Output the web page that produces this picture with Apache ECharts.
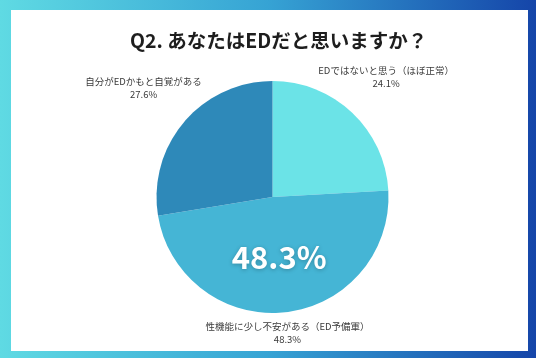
<!DOCTYPE html>
<html><head><meta charset="utf-8">
<script src="https://cdn.jsdelivr.net/npm/echarts@6/dist/echarts.min.js"></script>
<style>html,body{margin:0;padding:0;background:#fff}#c{width:536px;height:358px}</style>
</head><body><div id="c"></div>
<script>
const titleText = 'Q2. あなたはEDだと思いますか？';
const categories = ['EDではないと思う（ほぼ正常）', '性機能に少し不安がある（ED予備軍）', '自分がEDかもと自覚がある'];
const values = [24.1, 48.3, 27.6];
const sliceColors = ['#6be3e7', '#45b5d5', '#2e89b9'];
const highlightIndex = 1;

const CX = 272.5, CY = 197, R = 116;
const total = values.reduce((a, b) => a + b, 0);
function midAngle(i) {
  let cum = 0;
  for (let k = 0; k < i; k++) cum += values[k];
  return (cum + values[i] / 2) / total * Math.PI * 2;
}

const chart = echarts.init(document.getElementById('c'));
chart.setOption({
  backgroundColor: new echarts.graphic.LinearGradient(0, 0, 1, 0, [
    {offset: 0, color: '#5fdae3'},
    {offset: 0.5, color: '#36a3d4'},
    {offset: 1, color: '#1545a9'}
  ]),
  graphic: [{
    type: 'rect', left: 11, top: 10, z: -1,
    shape: {width: 517, height: 341},
    style: {fill: '#ffffff'}
  }],
  title: {
    text: titleText, left: 125, top: 26,
    textStyle: {fontFamily: 'Noto Sans CJK JP', fontSize: 19.5, fontWeight: 'bold', color: '#1e1e1e'}
  },
  series: [{
    type: 'pie', center: [CX, CY], radius: [0, R],
    startAngle: 90, clockwise: true, silent: true,
    emphasis: {disabled: true},
    itemStyle: {borderWidth: 0},
    data: categories.map((n, i) => ({
      name: n, value: values[i],
      itemStyle: {color: sliceColors[i]},
      label: i === highlightIndex ? {
        show: true, position: 'inside', formatter: '{c}%',
        fontFamily: 'Noto Sans CJK JP', fontSize: 31, fontWeight: 'bold', color: '#ffffff',
        textShadowColor: 'rgba(0,0,0,0.25)', textShadowBlur: 4, textShadowOffsetY: 1
      } : {show: false}
    })),
    labelLine: {show: false}
  }, {
    type: 'pie', center: [CX, CY], radius: [0, R],
    startAngle: 90, clockwise: true, silent: true,
    emphasis: {disabled: true},
    itemStyle: {color: 'rgba(0,0,0,0)'},
    data: categories.map((n, i) => ({name: n, value: values[i]})),
    label: {
      show: true, position: 'outside', formatter: '{b}\n{c}%',
      fontFamily: 'Noto Sans CJK JP', fontSize: 9.5, color: '#3a3a3a',
      lineHeight: 13, align: 'center', overflow: 'none'
    },
    labelLine: {show: false},
    labelLayout: function (p) {
      const a = midAngle(p.dataIndex);
      const s = Math.sin(a), c = Math.cos(a);
      const d = R + 15 + 50 * Math.abs(s);
      return {x: CX + d * s, y: CY - d * c, align: 'center', verticalAlign: 'middle'};
    }
  }]
});
</script></body></html>
